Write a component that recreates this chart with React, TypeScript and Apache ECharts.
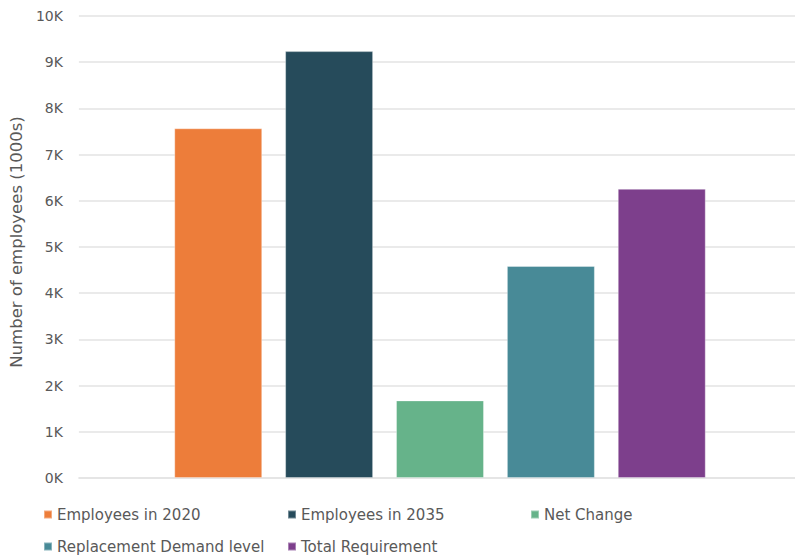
import React, { useEffect, useRef } from "react";
import * as echarts from "echarts";

const seriesNames = [
  "Employees in 2020",
  "Employees in 2035",
  "Net Change",
  "Replacement Demand level",
  "Total Requirement",
];
const seriesValues = [7570, 9240, 1680, 4590, 6260];
const seriesColors = ["#ED7D3A", "#264B5B", "#66B38A", "#488A97", "#7D3F8C"];
const yAxisName = "Number of employees (1000s)";

const legendPos = [
  { left: 43, top: 507 },
  { left: 287, top: 507 },
  { left: 530, top: 507 },
  { left: 43, top: 539 },
  { left: 287, top: 539 },
];

export default function App() {
  const ref = useRef<HTMLDivElement>(null);
  useEffect(() => {
    if (!ref.current) return;
    const chart = echarts.init(ref.current, undefined, { renderer: "svg" });
    const font = "'DejaVu Sans', sans-serif";
    chart.setOption({
      animation: false,
      textStyle: { fontFamily: font },
      grid: [
        { left: 78, right: 0, top: 16, bottom: 558 - 478 },
        { left: 85, right: 0, top: 16, bottom: 558 - 478 },
      ],
      legend: seriesNames.map((n, i) => ({
        data: [n],
        left: legendPos[i].left,
        top: legendPos[i].top,
        padding: 0,
        icon: "rect",
        itemWidth: 8,
        itemHeight: 8,
        itemGap: 5,
        textStyle: { color: "#595959", fontSize: 15, fontFamily: font },
        selectedMode: false,
      })),
      xAxis: [
        {
          type: "category",
          gridIndex: 0,
          data: [""],
          axisLine: { show: true, lineStyle: { color: "#e3e3e3", width: 1.5 } },
          axisTick: { show: false },
          axisLabel: { show: false },
        },
        {
          type: "category",
          gridIndex: 1,
          data: [""],
          axisLine: { show: false },
          axisTick: { show: false },
          axisLabel: { show: false },
        },
      ],
      yAxis: [
        {
          type: "value",
          gridIndex: 0,
          min: 0,
          max: 10000,
          interval: 1000,
          name: yAxisName,
          nameLocation: "middle",
          nameGap: 50,
          nameTextStyle: {
            color: "#595959",
            fontSize: 16.5,
            fontFamily: font,
            padding: [0, 0, 0, 10],
          },
          axisLabel: {
            color: "#595959",
            fontSize: 14,
            margin: 16,
            fontFamily: font,
            formatter: (v: number) => `${v / 1000}K`,
          },
          splitLine: { lineStyle: { color: "#e3e3e3", width: 1.5 } },
          axisLine: { show: false },
          axisTick: { show: false },
        },
        {
          type: "value",
          gridIndex: 1,
          min: 0,
          max: 10000,
          interval: 1000,
          axisLabel: { show: false },
          splitLine: { show: false },
          axisLine: { show: false },
          axisTick: { show: false },
        },
      ],
      series: seriesNames.map((n, i) => ({
        name: n,
        type: "bar",
        xAxisIndex: 1,
        yAxisIndex: 1,
        data: [seriesValues[i]],
        barWidth: 88,
        barGap: "26%",
        itemStyle: {
          color: seriesColors[i],
          borderColor: "rgba(255,255,255,0.35)",
          borderWidth: 1,
        },
      })),
    });
    return () => chart.dispose();
  }, []);
  return (
    <div
      ref={ref}
      style={{ width: 795, height: 558, position: "absolute", left: 0, top: 0 }}
    />
  );
}
